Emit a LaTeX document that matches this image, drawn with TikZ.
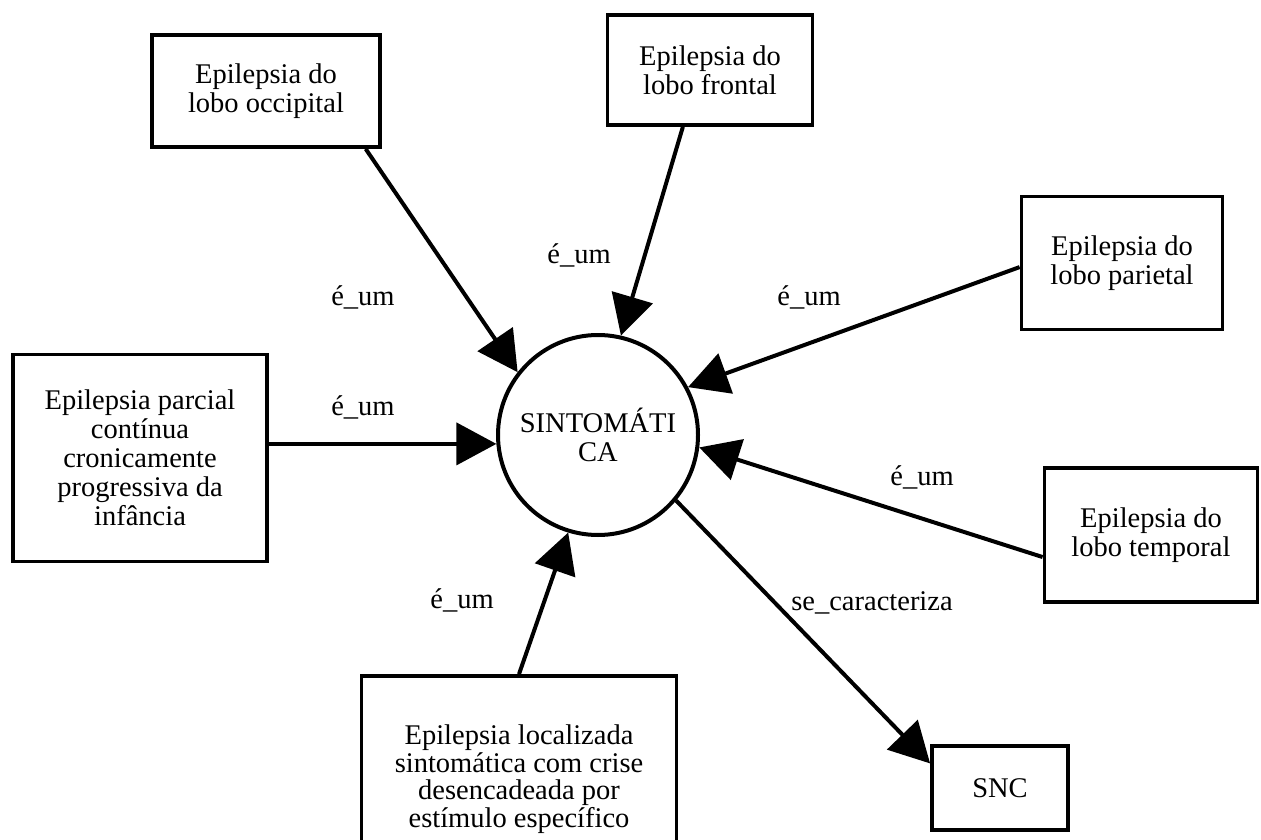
\documentclass[tikz,border=0pt]{standalone}
\usepackage{fontspec}
\setmainfont{Liberation Serif}
\usetikzlibrary{arrows.meta,calc}
\begin{document}
\begin{tikzpicture}[x=1pt,y=-1pt,
  txt/.style={font=\fontsize{28.5}{29}\selectfont},
  box/.style={txt, draw, line width=3.8pt, rectangle, align=center, inner sep=0pt},
  hub/.style={txt, draw, line width=4pt, circle, minimum size=200pt, align=center, inner sep=0pt},
  conn/.style={line width=4pt, -{Triangle[length=40pt,width=42pt]}},
  lbl/.style={txt, inner sep=0pt}]
\clip (0,0) rectangle (1261,840);
\useasboundingbox (0,0) rectangle (1261,840);

% central concept
\node[hub] (c) at (598,435) {SINTOMÁTI\\CA};

% surrounding concepts
\node[box, minimum width=228pt, minimum height=112pt] (occ) at (266,91) {Epilepsia do\\lobo occipital};
\node[box, minimum width=205pt, minimum height=110pt] (fro) at (710,70) {Epilepsia do\\lobo frontal};
\node[box, minimum width=201pt, minimum height=133pt] (par) at (1122,263) {Epilepsia do\\lobo parietal};
\node[box, minimum width=254pt, minimum height=207pt] (pcc) at (140,458) {Epilepsia parcial\\contínua\\cronicamente\\progressiva da\\infância};
\node[box, minimum width=213pt, minimum height=134pt] (tem) at (1151,535) {Epilepsia do\\lobo temporal};
\node[box, minimum width=136pt, minimum height=84pt] (snc) at (1000,788) {SNC};
% the lower part of this box runs off the bottom edge
\node[box, minimum width=315pt, minimum height=206pt, font=\fontsize{28.5}{27.5}\selectfont] (loc) at (519,779) {Epilepsia localizada\\sintomática com crise\\desencadeada por\\estímulo específico};

% relations
\draw[conn] ($(occ.south west)!0.93!(occ.south east)$) -- (c.142);
\draw[conn] ($(fro.south west)!0.37!(fro.south east)$) -- (c.77);
\draw[conn] ($(par.north west)!0.53!(par.south west)$) -- (c.28);
\draw[conn] ($(tem.north west)!0.66!(tem.south west)$) -- (c.-7);
\draw[conn] (c.185 -| pcc.east) -- (c.185);
\draw[conn] (loc.north) -- (c.-107);
\draw[conn] (c.-40) -- ($(snc.north west)!0.22!(snc.south west)$);

% relation labels
\node[lbl] (l1) at (363,297) {é\_um};
\node[lbl] (l2) at (363,407) {é\_um};
\node[lbl] (l3) at (579,255) {é\_um};
\node[lbl] (l4) at (809,297) {é\_um};
\node[lbl] (l5) at (922,477) {é\_um};
\node[lbl] (l6) at (462,600) {é\_um};
\node[lbl] (l7) at (872,603) {se\_caracteriza};
\end{tikzpicture}
\end{document}
